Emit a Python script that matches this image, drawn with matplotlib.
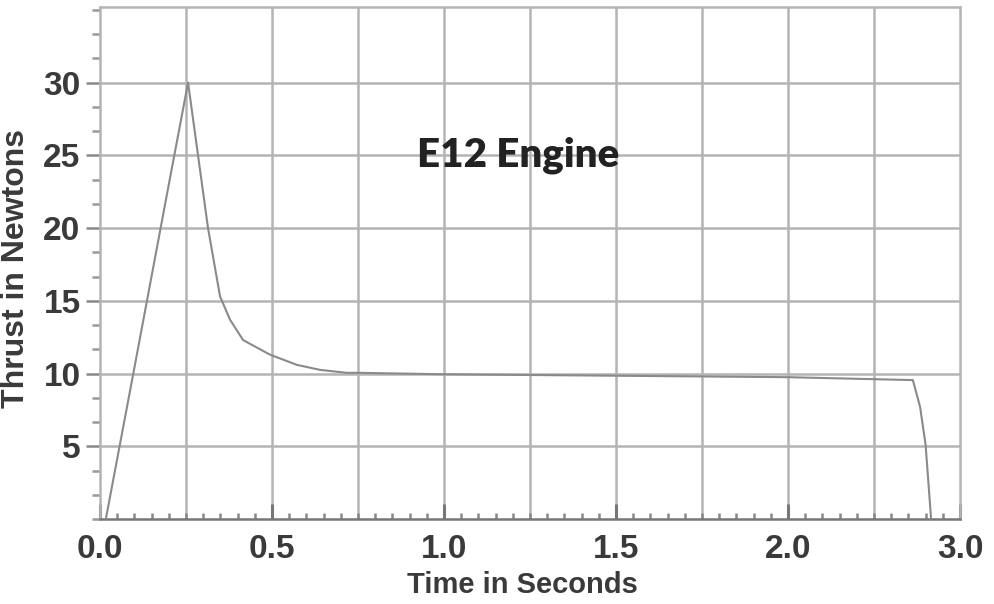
import matplotlib
matplotlib.use("Agg")
import matplotlib.pyplot as plt
from matplotlib.ticker import MultipleLocator, FixedLocator, FixedFormatter

# Thrust curve (time in s, thrust in N)
time_s = [0.017, 0.10, 0.20, 0.256, 0.285, 0.314, 0.349, 0.378, 0.416, 0.494,
          0.572, 0.64, 0.717, 0.75, 1.0, 1.5, 2.0, 2.363, 2.384, 2.40, 2.416]
thrust_n = [0.0, 10.4, 23.0, 30.0, 25.0, 20.0, 15.3, 13.7, 12.3, 11.3,
            10.6, 10.25, 10.05, 10.05, 9.95, 9.85, 9.75, 9.55, 7.7, 5.1, 0.0]

x_tick_pos = [0.0, 0.5, 1.0, 1.5, 2.0, 2.5]
x_tick_labels = ["0.0", "0.5", "1.0", "1.5", "2.0", "3.0"]
y_tick_pos = [5, 10, 15, 20, 25, 30]
y_tick_labels = ["5", "10", "15", "20", "25", "30"]

title_text = "E12 Engine"
x_label = "Time in Seconds"
y_label = "Thrust in Newtons"

fig = plt.figure(figsize=(9.95, 6.04), dpi=100)
ax = fig.add_axes([100/995, 1-519/604, 860/995, 512/604])

grid_c = "#b4b4b4"
ax.set_xlim(0, 2.5)
ax.set_ylim(0, 35.2)

# grid
for gx in [0.25*i for i in range(1, 10)]:
    ax.axvline(gx, color=grid_c, lw=1.8, zorder=1)
for gy in y_tick_pos:
    ax.axhline(gy, color=grid_c, lw=1.8, zorder=1)

ax.plot(time_s, thrust_n, color="#8a8a8a", lw=1.5, zorder=3)

for side in ["left", "top", "right"]:
    ax.spines[side].set_color(grid_c)
    ax.spines[side].set_linewidth(1.8)
ax.spines["bottom"].set_color("#777777")
ax.spines["bottom"].set_linewidth(1.8)

ax.xaxis.set_major_locator(FixedLocator(x_tick_pos))
ax.xaxis.set_major_formatter(FixedFormatter(x_tick_labels))
ax.xaxis.set_minor_locator(MultipleLocator(0.05))
ax.yaxis.set_major_locator(FixedLocator(y_tick_pos))
ax.yaxis.set_major_formatter(FixedFormatter(y_tick_labels))
ax.yaxis.set_minor_locator(MultipleLocator(5/3))

ax.tick_params(axis="x", which="major", direction="in", length=11, width=2.2,
               color="#777777", pad=11, labelsize=24, labelcolor="#3a3a3a")
ax.tick_params(axis="x", which="minor", direction="in", length=4, width=1.8,
               color="#888888")
ax.tick_params(axis="y", which="major", direction="out", length=10, width=1.8,
               color="#888888", pad=4, labelsize=24, labelcolor="#3a3a3a")
ax.tick_params(axis="y", which="minor", direction="out", length=6, width=1.8,
               color="#999999")
for lab in ax.get_xticklabels() + ax.get_yticklabels():
    lab.set_fontweight("bold")
    lab.set_family("Liberation Sans")

fig.text(522/995, 1-585/604, x_label, ha="center", va="center", fontsize=21,
         fontweight="bold", family="Liberation Sans", color="#3a3a3a")
fig.text(16/995, 1-268/604, y_label, ha="center", va="center", fontsize=23,
         fontweight="bold", family="Liberation Sans", color="#3a3a3a",
         rotation=90)
fig.text(518/995, 1-155/604, title_text, ha="center", va="center", fontsize=29,
         fontweight="heavy", family="Lato", color="#222222")

fig.savefig("out.png", dpi=100, facecolor="white")
